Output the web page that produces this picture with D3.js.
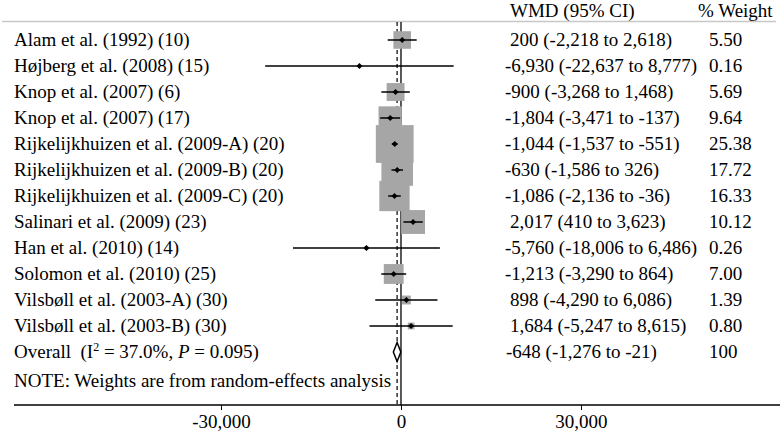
<!DOCTYPE html>
<html><head><meta charset="utf-8">
<script src="https://cdn.jsdelivr.net/npm/d3@7"></script>
<style>body{margin:0;background:#fff}svg text{font-family:"Liberation Serif","Times New Roman",serif;font-size:19px;fill:#000}</style>
</head><body><svg id="c" width="782" height="432"></svg>
<script>
const studies = ["Alam et al. (1992) (10)","Højberg et al. (2008) (15)","Knop et al. (2007) (6)","Knop et al. (2007) (17)","Rijkelijkhuizen et al. (2009-A) (20)","Rijkelijkhuizen et al. (2009-B) (20)","Rijkelijkhuizen et al. (2009-C) (20)","Salinari et al. (2009) (23)","Han et al. (2010) (14)","Solomon et al. (2010) (25)","Vilsbøll et al. (2003-A) (30)","Vilsbøll et al. (2003-B) (30)"];
const wmd = [200,-6930,-900,-1804,-1044,-630,-1086,2017,-5760,-1213,898,1684];
const lo = [-2218,-22637,-3268,-3471,-1537,-1586,-2136,410,-18006,-3290,-4290,-5247];
const hi = [2618,8777,1468,-137,-551,326,-36,3623,6486,864,6086,8615];
const weights = ["5.50","0.16","5.69","9.64","25.38","17.72","16.33","10.12","0.26","7.00","1.39","0.80"];
const overall = {est:-648, lo:-1276, hi:-21, weight:"100"};
const xTicks = [-30000,0,30000];

const svg = d3.select("#c");
const x = d3.scaleLinear().domain([-64500,63170]).range([14,780]);
const rowY = d3.scaleLinear().domain([0,1]).range([40,66]);
const fmt = d3.format(",");
const f = v => fmt(v).replace("−","-");
const base = 6.3;

// header line
svg.append("line").attr("x1",2).attr("x2",776).attr("y1",21.5).attr("y2",21.5).attr("stroke","#c8c8c8").attr("stroke-width",1.5);
svg.append("text").attr("x",510).attr("y",17).text("WMD (95% CI)");
svg.append("text").attr("x",698).attr("y",17).text("% Weight");

// reference lines
svg.append("line").attr("x1",x(0)).attr("x2",x(0)).attr("y1",22).attr("y2",405).attr("stroke","#000").attr("stroke-width",1.3);
svg.append("line").attr("x1",x(overall.est)).attr("x2",x(overall.est)).attr("y1",22).attr("y2",405).attr("stroke","#000").attr("stroke-width",1.2).attr("stroke-dasharray","4,3");

const idx = d3.range(studies.length);
// boxes
svg.selectAll("rect.box").data(idx).join("rect").attr("class","box")
  .each(function(i){
    const s = 7.5*Math.sqrt(+weights[i]);
    d3.select(this).attr("x",x(wmd[i])-s/2).attr("y",rowY(i)-s/2).attr("width",s).attr("height",s);
  }).attr("fill","#a6a6a6");
// CI lines
svg.selectAll("line.ci").data(idx).join("line").attr("class","ci")
  .attr("x1",i=>x(lo[i])).attr("x2",i=>x(hi[i])).attr("y1",i=>rowY(i)).attr("y2",i=>rowY(i))
  .attr("stroke","#000").attr("stroke-width",1.5);
// point markers
svg.selectAll("path.pt").data(idx).join("path").attr("class","pt")
  .attr("d",i=>{const cx=x(wmd[i]),cy=rowY(i);return `M${cx-3},${cy}L${cx},${cy-3}L${cx+3},${cy}L${cx},${cy+3}Z`;})
  .attr("fill","#000");

// labels
svg.selectAll("text.lab").data(idx).join("text").attr("class","lab")
  .attr("x",14).attr("y",i=>rowY(i)+base).text(i=>studies[i]);
svg.selectAll("text.est").data(idx).join("text").attr("class","est")
  .attr("x",i=>wmd[i]<0?505:510).attr("y",i=>rowY(i)+base)
  .text(i=>`${f(wmd[i])} (${f(lo[i])} to ${f(hi[i])})`);
svg.selectAll("text.w").data(idx).join("text").attr("class","w")
  .attr("x",709).attr("y",i=>rowY(i)+base).text(i=>weights[i]);

// overall
const oy = rowY(studies.length);
svg.append("path").attr("d",`M${x(overall.lo)},${oy}L${x(overall.est)},${oy-9.5}L${x(overall.hi)},${oy}L${x(overall.est)},${oy+9.5}Z`)
  .attr("fill","#fff").attr("stroke","#000").attr("stroke-width",1.5);
const ot = svg.append("text").attr("x",14).attr("y",oy+base).attr("xml:space","preserve");
ot.append("tspan").text("Overall  (I");
ot.append("tspan").attr("dy",-7).style("font-size","12px").text("2");
ot.append("tspan").attr("dy",7).text(" = 37.0%, ");
ot.append("tspan").style("font-style","italic").text("P");
ot.append("tspan").text(" = 0.095)");
svg.append("text").attr("x",506).attr("y",oy+base).text(`${f(overall.est)} (${f(overall.lo)} to ${f(overall.hi)})`);
svg.append("text").attr("x",709).attr("y",oy+base).text(overall.weight);

svg.append("text").attr("x",14).attr("y",386.5).text("NOTE: Weights are from random-effects analysis");

// axis
const ax = svg.append("g").attr("transform","translate(0,405)")
  .call(d3.axisBottom(x).tickValues(xTicks).tickSize(5).tickFormat(d=>f(d)));
ax.select(".domain").attr("d",`M14,0H780`).attr("stroke","#000").attr("stroke-width",1.3);
ax.selectAll(".tick line").attr("stroke","#000");
ax.selectAll(".tick text").attr("y",23).attr("dy","0").style("font-size","19px").style("font-family","Liberation Serif, serif");
</script></body></html>
